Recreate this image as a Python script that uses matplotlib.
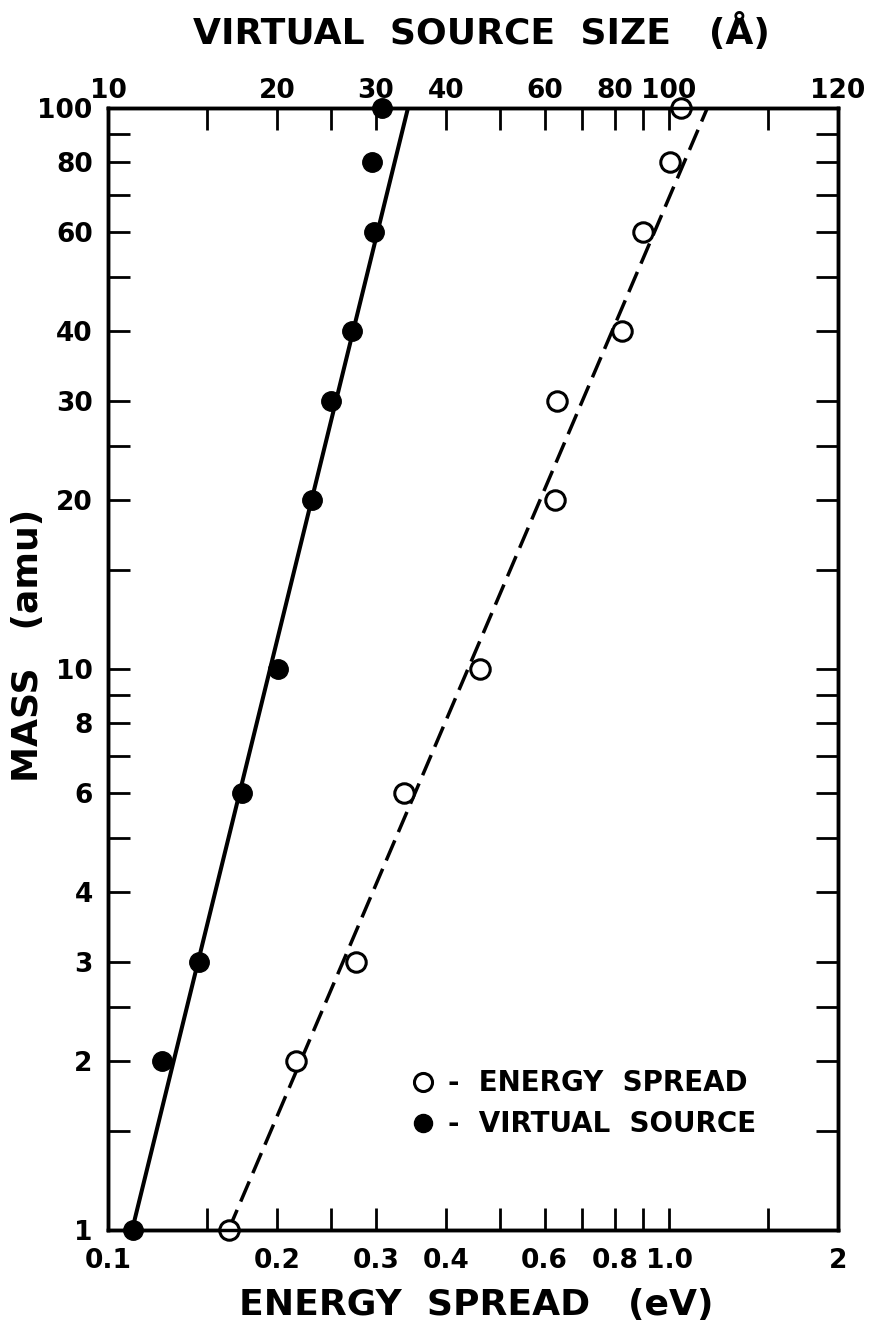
import matplotlib
matplotlib.use("Agg")
import matplotlib.pyplot as plt
from matplotlib.ticker import NullFormatter

# measured points, one entry per mass
mass = [1, 2, 3, 6, 10, 20, 30, 40, 60, 80, 100]
energy_spread = [0.164, 0.216, 0.277, 0.337, 0.46, 0.626, 0.632, 0.825, 0.899, 1.004, 1.05]
source_size = [11.1, 12.5, 14.5, 17.3, 20.1, 23.1, 25.0, 27.2, 29.8, 29.5, 30.8]

# fitted straight lines (log-log), given by their end points
fit_mass = [1, 100]
fit_energy = [0.164, 1.17]
fit_size = [11.04, 34.25]

# axis ticks
energy_major = [0.1, 0.2, 0.3, 0.4, 0.6, 0.8, 1.0, 2.0]
energy_labels = ["0.1", "0.2", "0.3", "0.4", "0.6", "0.8", "1.0", "2"]
energy_minor = [0.15, 0.25, 0.5, 0.7, 0.9, 1.5]
size_major = [10, 20, 30, 40, 60, 80, 100, 200]
size_labels = ["10", "20", "30", "40", "60", "80", "100", "120"]
size_minor = [15, 25, 50, 70, 90, 150]
mass_major = [1, 2, 3, 4, 6, 8, 10, 20, 30, 40, 60, 80, 100]
mass_labels = ["1", "2", "3", "4", "6", "8", "10", "20", "30", "40", "60", "80", "100"]
mass_minor = [1.5, 2.5, 5, 7, 9, 15, 25, 50, 70, 90]

plt.rcParams["font.family"] = "DejaVu Sans"
plt.rcParams["font.weight"] = "bold"

fig = plt.figure(figsize=(8.71, 13.25), dpi=100)
ax = fig.add_axes([0.124, 0.0717, 0.8381, 0.8468])
ax.set_xscale("log")
ax.set_yscale("log")
ax.set_xlim(0.1, 2.0)
ax.set_ylim(1, 100)

top = ax.twiny()
top.set_xscale("log")
top.set_xlim(10, 200)

# energy spread: open circles + dashed fit
ax.plot(fit_energy, fit_mass, color="black", lw=2.5, dashes=(6.3, 2.6), zorder=2)
ax.plot(energy_spread, mass, "o", ms=14, mfc="white", mec="black", mew=2.2,
        clip_on=False, zorder=4)

# virtual source size: filled circles + solid fit
top.plot(fit_size, fit_mass, color="black", lw=2.9, solid_capstyle="butt", zorder=2)
top.plot(source_size, mass, "o", ms=14, mfc="black", mec="black",
         clip_on=False, zorder=4)

ax.set_xticks(energy_major, energy_labels)
ax.set_xticks(energy_minor, minor=True)
ax.set_yticks(mass_major, mass_labels)
ax.set_yticks(mass_minor, minor=True)
ax.xaxis.set_minor_formatter(NullFormatter())
ax.yaxis.set_minor_formatter(NullFormatter())
top.set_xticks(size_major, size_labels)
top.set_xticks(size_minor, minor=True)
top.xaxis.set_minor_formatter(NullFormatter())

for a in (ax, top):
    for s in a.spines.values():
        s.set_linewidth(2.5)
ax.tick_params(which="both", direction="in", length=15.5, width=2.0,
               top=False, right=True, labelsize=19)
ax.tick_params(axis="x", pad=13)
ax.tick_params(axis="y", pad=11)
top.tick_params(which="both", direction="in", length=15.5, width=2.0,
                labelsize=19, pad=3)

label_font = dict(fontsize=26, fontweight="bold", va="center")
ax.set_xlabel("ENERGY  SPREAD   (eV)", **label_font)
ax.xaxis.set_label_coords(0.505, -0.067)
ax.set_ylabel("MASS   (amu)", **label_font)
ax.yaxis.set_label_coords(-0.11, 0.521)
top.set_xlabel("VIRTUAL  SOURCE  SIZE   (Å)", **label_font)
top.xaxis.set_label_coords(0.512, 1.068)

# legend
ax.plot([], [], "o", ms=13, mfc="white", mec="black", mew=2.2, label="-  ENERGY  SPREAD")
ax.plot([], [], "o", ms=13, mfc="black", mec="black", label="-  VIRTUAL  SOURCE")
ax.legend(loc="upper left", bbox_to_anchor=(0.405, 0.153), frameon=False,
          fontsize=20, handlelength=0.6, handletextpad=0.6, labelspacing=0.47,
          borderaxespad=0)

fig.savefig("out.png", dpi=100)
